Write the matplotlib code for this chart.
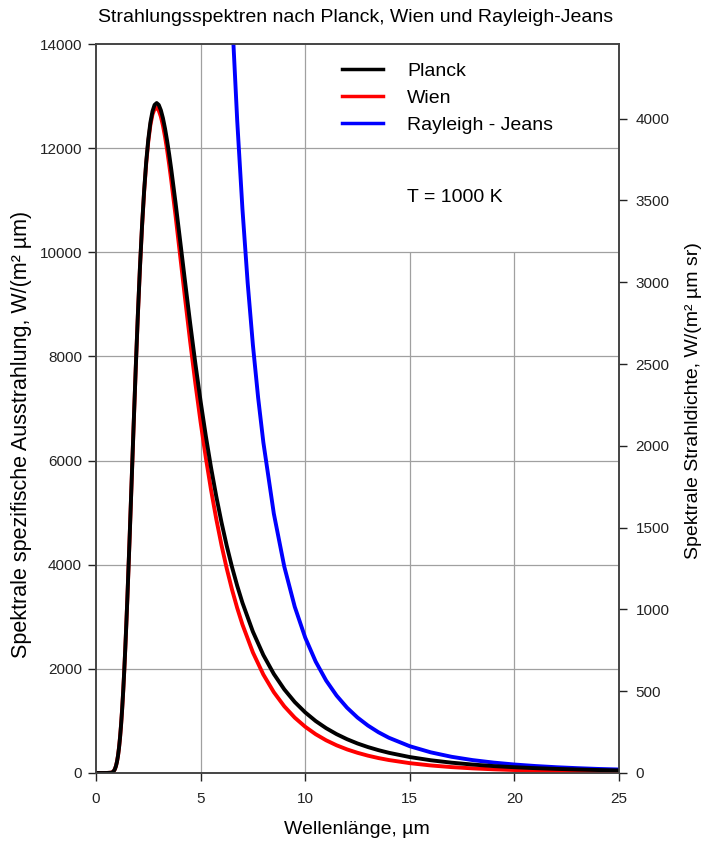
import matplotlib
matplotlib.use("Agg")
import matplotlib.pyplot as plt
import numpy as np

plt.rcParams['font.family'] = ['Liberation Sans', 'DejaVu Sans']

# Wavelength grid (µm) and values, W/(m² µm)
lam_pw = [0.05, 0.5, 0.75, 0.8, 0.85, 0.9, 0.95, 1.0, 1.05, 1.1, 1.15, 1.2, 1.25, 1.3,
          1.35, 1.4, 1.45, 1.5, 1.6, 1.7, 1.8, 1.9, 2.0, 2.1, 2.2, 2.3, 2.4, 2.5, 2.6,
          2.7, 2.8, 2.9, 3.0, 3.1, 3.2, 3.3, 3.4, 3.5, 3.6, 3.8, 4.0, 4.25, 4.5, 4.75,
          5.0, 5.25, 5.5, 5.75, 6.0, 6.25, 6.5, 6.75, 7.0, 7.5, 8.0, 8.5, 9.0, 9.5,
          10, 10.5, 11, 11.5, 12, 12.5, 13, 13.5, 14, 15, 16, 17, 18, 19, 20, 21,
          22, 23, 24, 25]
planck = [0, 0, 7, 18, 38, 72, 128, 211, 328, 484, 686, 933, 1229, 1572,
          1962, 2394, 2863, 3363, 4438, 5562, 6690, 7777, 8791, 9703, 10503, 11180,
          11736, 12170, 12493, 12708, 12830, 12866, 12830, 12729, 12575, 12376, 12140,
          11874, 11585, 10959, 10296, 9459, 8641, 7863, 7139, 6472, 5863, 5311, 4812,
          4362, 3958, 3595, 3269, 2714, 2265, 1902, 1606, 1363, 1164, 998, 861, 746,
          649, 567, 498, 439, 388, 306, 245, 198, 162, 133, 111, 93, 79, 67, 57, 49]
wien = [0, 0, 7, 18, 38, 72, 128, 211, 328, 484, 686, 933, 1229, 1572,
        1962, 2394, 2863, 3363, 4437, 5561, 6688, 7773, 8785, 9693, 10488, 11159,
        11707, 12131, 12443, 12647, 12754, 12776, 12724, 12606, 12435, 12218, 11963,
        11679, 11372, 10711, 10014, 9138, 8288, 7483, 6738, 6054, 5434, 4876, 4374,
        3926, 3525, 3168, 2851, 2315, 1890, 1552, 1281, 1063, 888, 745, 628, 532,
        453, 388, 333, 287, 249, 189, 145, 113, 89, 71, 57, 46, 38, 31, 26, 22]
lam_rj = [6.5, 6.75, 7.0, 7.25, 7.5, 7.75, 8.0, 8.5, 9.0, 9.5, 10, 10.5, 11, 11.5, 12,
          12.5, 13, 13.5, 14, 15, 16, 17, 18, 19, 20, 21, 22, 23, 24, 25]
rayleigh = [14569, 12528, 10832, 9413, 8220, 7209, 6349, 4982, 3964, 3193, 2601, 2140,
            1776, 1487, 1254, 1065, 911, 783, 677, 514, 397, 311, 248, 200, 163, 134,
            111, 93, 78, 67]

series_names = ['Planck', 'Wien', 'Rayleigh - Jeans']
x_ticks = [0, 5, 10, 15, 20, 25]
y_ticks = [0, 2000, 4000, 6000, 8000, 10000, 12000, 14000]
y2_ticks = [0, 500, 1000, 1500, 2000, 2500, 3000, 3500, 4000]

fig = plt.figure(figsize=(7.16, 8.56), dpi=100)
ax = fig.add_axes([96/716, 1-773/856, (619-96)/716, (773-44)/856])

fs_tick = 11
fs_lab = 14
grid_c = '#a0a0a0'
# grid
for yv in y_ticks[1:-1]:
    ax.axhline(yv, color=grid_c, lw=0.9, zorder=1)
for xv in x_ticks[1:-1]:
    top = 14000 if xv <= 10 else 10000
    ax.vlines(xv, 0, top, color=grid_c, lw=0.9, zorder=1)

ax.plot(lam_pw, wien, color='#ff0000', lw=2.8, label=series_names[1], zorder=3)
ax.plot(lam_pw, planck, color='black', lw=2.8, label=series_names[0], zorder=4)
ax.plot(lam_rj, rayleigh, color='#0000ff', lw=2.8, label=series_names[2], zorder=3)

ax.set_xlim(0, 25)
ax.set_ylim(0, 14000)
ax.set_xticks(x_ticks)
ax.set_yticks(y_ticks)
ax.tick_params(axis='both', direction='out', length=6, width=1, labelsize=fs_tick, colors='#222222', pad=4)
ax.tick_params(axis='x', pad=8)
for s in ax.spines.values():
    s.set_color('#444444')
    s.set_linewidth(1.2)

ax2 = ax.twinx()
ax2.set_ylim(0, 14000/np.pi)
ax2.set_yticks(y2_ticks)
ax2.tick_params(axis='y', direction='out', length=6, width=1, labelsize=fs_tick, colors='#222222', pad=6)
for s in ax2.spines.values():
    s.set_color('#444444')
    s.set_linewidth(1.2)

fig.text(357/716, 1-830/856, 'Wellenlänge, µm', fontsize=fs_lab, ha='center', va='center')
fig.text(22/716, 1-434/856, 'Spektrale spezifische Ausstrahlung, W/(m² µm)', fontsize=15.5,
         rotation=90, ha='center', va='center')
fig.text(693/716, 1-401/856, 'Spektrale Strahldichte, W/(m² µm sr)', fontsize=fs_lab,
         rotation=90, ha='center', va='center')
fig.text(356/716, 1-18/856, 'Strahlungsspektren nach Planck, Wien und Rayleigh-Jeans',
         ha='center', va='center', fontsize=fs_lab)

h, l = ax.get_legend_handles_labels()
order = [1, 0, 2]
leg = ax.legend([h[i] for i in order], [l[i] for i in order], loc='upper left',
                bbox_to_anchor=((342-96)/523, (773-62)/729), frameon=False, fontsize=fs_lab,
                handlelength=2.1, handletextpad=1.25, labelspacing=0.5,
                borderpad=0, borderaxespad=0)
for line in leg.get_lines():
    line.set_linewidth(2.5)

ax.text((407-96)/523, (773-197)/729, 'T = 1000 K', transform=ax.transAxes, fontsize=fs_lab,
        va='center', ha='left')

fig.savefig('out.png', dpi=100)
